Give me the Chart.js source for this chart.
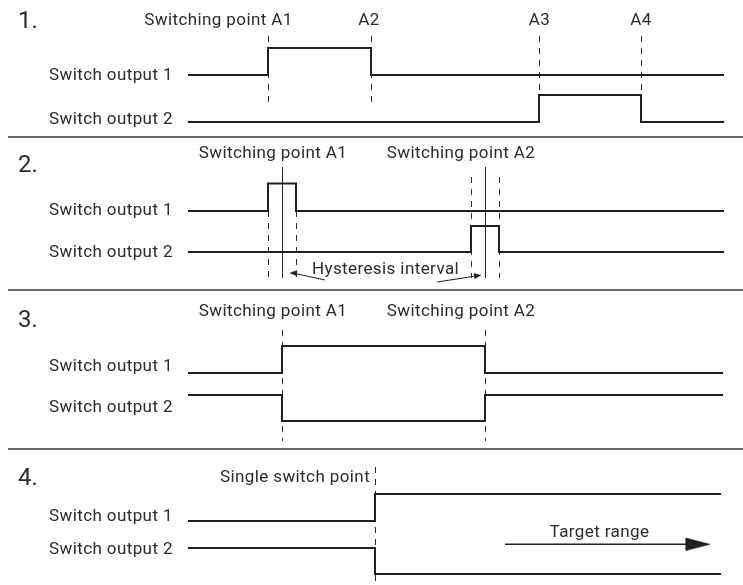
<!DOCTYPE html>
<html>
<head>
<meta charset="utf-8">
<script src="https://cdn.jsdelivr.net/npm/chart.js@4.4.1/dist/chart.umd.min.js"></script>
<style>
  html, body { margin: 0; padding: 0; background: #ffffff; }
  #wrap { width: 743px; height: 585px; position: relative; }
</style>
</head>
<body>
<div id="wrap"><canvas id="c" width="743" height="585"></canvas></div>
<script>
// ---------------- DATA ----------------
const panelTitles = ['1.', '2.', '3.', '4.'];
const outputNames = ['Switch output 1', 'Switch output 2'];

// Panel 1: two windows (A1..A2 on output 1, A3..A4 on output 2)
const p1PointLabels = ['Switching point A1', 'A2', 'A3', 'A4'];
const p1SwitchX = [268, 371, 539, 641];
const p1Out1Start = 0, p1Out1Edges = [268, 371];
const p1Out2Start = 0, p1Out2Edges = [539, 641];

// Panel 2: hysteresis around two switching points
const p2PointLabels = ['Switching point A1', 'Switching point A2'];
const p2SwitchX = [282, 485];
const p2Out1Start = 0, p2Out1Edges = [268, 296];
const p2Out2Start = 0, p2Out2Edges = [471, 499];
const p2HystEdges = [268, 296, 471, 499];
const p2Note = 'Hysteresis interval';

// Panel 3: complementary window
const p3PointLabels = ['Switching point A1', 'Switching point A2'];
const p3SwitchX = [282, 485];
const p3Out1Start = 0, p3Out1Edges = [282, 485];
const p3Out2Start = 1, p3Out2Edges = [282, 485];

// Panel 4: single switch point
const p4PointLabels = ['Single switch point'];
const p4SwitchX = [375];
const p4Out1Start = 0, p4Out1Edges = [375];
const p4Out2Start = 1, p4Out2Edges = [375];
const p4Note = 'Target range';
const p4RangeFrom = 505, p4RangeTo = 710;

// ---------------- LAYOUT (code) ----------------
const INK = '#231f20';
const TXT = '#2b2b2b';
const SIG_X0 = 188;
const SIG_X1 = [724, 724, 723, 721];
// [lowY, highY] per panel per output
const lev = [
  [[75, 48], [122, 95]],
  [[211, 183.5], [252, 226]],
  [[373, 346], [421, 395]],
  [[521, 494], [574, 548]]
];
const labelY = [[76, 120], [211, 253], [367, 408], [517, 550]];
const titleY = [22, 166, 321, 479];
const sepY = [137, 290, 449];
const crisp = v => v + 0.5; // align 1px strokes to the pixel grid

function stepData(start, edges, levels, x0, x1) {
  let s = start;
  const y = st => levels[st ? 1 : 0];
  const pts = [{x: x0, y: y(s)}];
  edges.forEach(e => {
    pts.push({x: e, y: y(s)});
    s = 1 - s;
    pts.push({x: e, y: y(s)});
  });
  pts.push({x: x1, y: y(s)});
  return pts;
}

const datasets = [];
function line(data, opts) {
  datasets.push(Object.assign({
    data, showLine: true, pointRadius: 0, borderColor: INK, borderWidth: 2,
    fill: false, tension: 0, borderJoinStyle: 'miter', borderCapStyle: 'butt'
  }, opts || {}));
}
const dash = {borderWidth: 1, borderDash: [6, 6], borderColor: '#2a2a2a'};

// separators
sepY.forEach(y => line([{x: 8, y}, {x: 743, y}], {borderWidth: 1.5, borderColor: '#3a3a3a'}));

// Panel 1
line(stepData(p1Out1Start, p1Out1Edges, lev[0][0], SIG_X0, SIG_X1[0]));
line(stepData(p1Out2Start, p1Out2Edges, lev[0][1], SIG_X0, SIG_X1[0]));
p1SwitchX.forEach((x, i) => line([{x: crisp(x), y: 36}, {x: crisp(x), y: i < 2 ? 107 : lev[0][1][1]}], dash));

// Panel 2
line(stepData(p2Out1Start, p2Out1Edges, lev[1][0], SIG_X0, SIG_X1[1]));
line(stepData(p2Out2Start, p2Out2Edges, lev[1][1], SIG_X0, SIG_X1[1]));
p2HystEdges.forEach((x, i) => line([{x: crisp(x), y: i < 2 ? lev[1][0][0] : 177}, {x: crisp(x), y: 278}], dash));
p2SwitchX.forEach(x => line([{x: crisp(x), y: 167}, {x: crisp(x), y: 278}], {borderWidth: 1}));
// hysteresis arrows
line([{x: 325, y: 280}, {x: 293, y: 273}], {borderWidth: 1});
line([{x: 437, y: 282}, {x: 476, y: 276}], {borderWidth: 1});
line([{x: 290, y: 273}, {x: 297, y: 270.5}, {x: 296, y: 275.5}, {x: 290, y: 273}], {borderWidth: 0.5, fill: 'shape', backgroundColor: INK});
line([{x: 481, y: 275.3}, {x: 474, y: 273.5}, {x: 475, y: 278.5}, {x: 481, y: 275.3}], {borderWidth: 0.5, fill: 'shape', backgroundColor: INK});

// Panel 3
line(stepData(p3Out1Start, p3Out1Edges, lev[2][0], SIG_X0, SIG_X1[2]));
line(stepData(p3Out2Start, p3Out2Edges, lev[2][1], SIG_X0, SIG_X1[2]));
p3SwitchX.forEach(x => line([{x: crisp(x), y: 330}, {x: crisp(x), y: 441}], dash));

// Panel 4
line(stepData(p4Out1Start, p4Out1Edges, lev[3][0], SIG_X0, SIG_X1[3]));
line(stepData(p4Out2Start, p4Out2Edges, lev[3][1], SIG_X0, SIG_X1[3]));
p4SwitchX.forEach(x => line([{x: crisp(x), y: 467}, {x: crisp(x), y: 584}], dash));
line([{x: p4RangeFrom, y: 544.3}, {x: p4RangeTo - 20, y: 544.3}], {borderWidth: 1.5});
line([{x: p4RangeTo, y: 544.3}, {x: p4RangeTo - 24, y: 538}, {x: p4RangeTo - 24, y: 550.6}, {x: p4RangeTo, y: 544.3}],
     {borderWidth: 0.5, fill: 'shape', backgroundColor: INK});

// ---------------- TEXT ----------------
const FONT = 'Roboto, "Noto Sans", sans-serif';
const BODY = 17, SPACING = '0.4px';
const texts = [];
panelTitles.forEach((t, i) => texts.push({t, x: 18, y: titleY[i], size: 24, align: 'left', ls: '0px'}));
for (let p = 0; p < 4; p++) {
  outputNames.forEach((t, o) => texts.push({t, x: 49, y: labelY[p][o], size: BODY, align: 'left'}));
}
const p1LabelX = [218.5, 369, 539.5, 641];
p1PointLabels.forEach((t, i) => texts.push({t, x: p1LabelX[i], y: 21, size: BODY, align: 'center'}));
const p23LabelX = [273, 461];
p2PointLabels.forEach((t, i) => texts.push({t, x: p23LabelX[i], y: 154, size: BODY, align: 'center'}));
p3PointLabels.forEach((t, i) => texts.push({t, x: p23LabelX[i], y: 311.5, size: BODY, align: 'center'}));
texts.push({t: p2Note, x: 385.5, y: 270, size: BODY, align: 'center'});
p4PointLabels.forEach(t => texts.push({t, x: 295, y: 477.5, size: BODY, align: 'center'}));
texts.push({t: p4Note, x: 599.5, y: 532.5, size: BODY, align: 'center'});

const textPlugin = {
  id: 'diagramText',
  afterDatasetsDraw(chart) {
    const {ctx, scales: {x, y}} = chart;
    ctx.save();
    ctx.fillStyle = TXT;
    ctx.textBaseline = 'middle';
    texts.forEach(d => {
      ctx.font = d.size + 'px ' + FONT;
      ctx.letterSpacing = d.ls || SPACING;
      ctx.textAlign = d.align;
      ctx.fillText(d.t, x.getPixelForValue(d.x), y.getPixelForValue(d.y));
    });
    ctx.restore();
  }
};

new Chart(document.getElementById('c'), {
  type: 'scatter',
  data: { datasets },
  options: {
    responsive: false,
    animation: false,
    events: [],
    layout: { padding: 0 },
    plugins: { legend: { display: false }, tooltip: { enabled: false } },
    scales: {
      x: { type: 'linear', min: 0, max: 743, display: false },
      y: { type: 'linear', min: 0, max: 585, reverse: true, display: false }
    }
  },
  plugins: [textPlugin]
});
</script>
</body>
</html>
